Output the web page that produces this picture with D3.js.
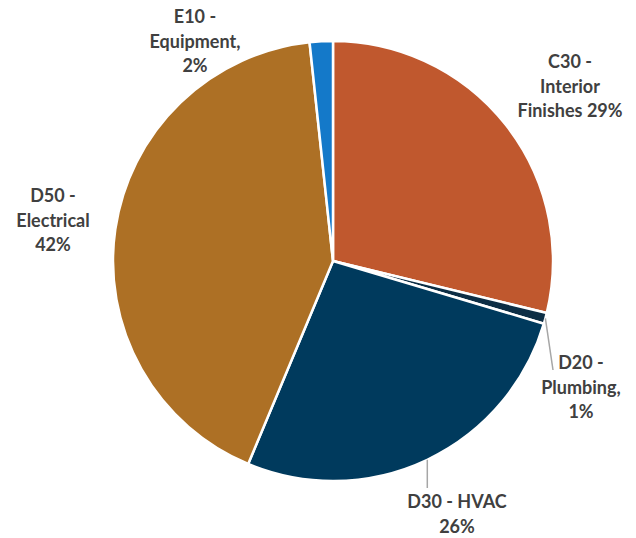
<!DOCTYPE html>
<html><head><meta charset="utf-8">
<script src="https://cdn.jsdelivr.net/npm/d3@7"></script>
<style>body{margin:0;background:#fff}svg{display:block}</style>
</head><body>
<script>
const categories = ["C30 - Interior Finishes", "D20 - Plumbing", "D30 - HVAC", "D50 - Electrical", "E10 - Equipment"];
const values = [28.8, 0.8, 26.7, 42.0, 1.7];
const colors = ["#C0582E", "#0D2E45", "#003A5D", "#AD7025", "#1479C9"];
const labelLines = [
  ["C30 -", "Interior", "Finishes 29%"],
  ["D20 -", "Plumbing,", "1%"],
  ["D30 - HVAC", "26%"],
  ["D50 -", "Electrical", "42%"],
  ["E10 -", "Equipment,", "2%"]
];
// layout (label anchor centers, leader flags)
const labelAt = [[570, 62], [581, 363], [457, 502], [53, 196], [195, 17]];
const leader = [false, true, true, false, false];

const W = 636, H = 538, cx = 333, cy = 261, R = 220;
const svg = d3.select("body").append("svg").attr("width", W).attr("height", H);
const g = svg.append("g").attr("transform", `translate(${cx},${cy})`);
const data = categories.map((c, i) => ({c, v: values[i], i}));
const pie = d3.pie().value(d => d.v).sort(null).startAngle(0).endAngle(2 * Math.PI);
const arc = d3.arc().innerRadius(0).outerRadius(R);
const arcs = pie(data);
g.selectAll("path").data(arcs).join("path")
  .attr("d", arc).attr("fill", d => colors[d.data.i])
  .attr("stroke", "#fff").attr("stroke-width", 2.5).attr("stroke-linejoin", "round");

arcs.forEach((a, i) => {
  if (!leader[i]) return;
  const m = (a.startAngle + a.endAngle) / 2;
  const x0 = R * Math.sin(m), y0 = -R * Math.cos(m);
  const [lx, ly] = labelAt[i];
  let x1 = lx - cx, y1 = ly - cy - 12;
  if (i === 1) { x1 = 553 - cx; y1 = 370 - cy; }
  if (i === 2) { x1 = x0; y1 = 488 - cy; }
  g.append("line").attr("x1", x0).attr("y1", y0).attr("x2", x1).attr("y2", y1)
    .attr("stroke", "#A6A6A6").attr("stroke-width", 1.5);
});

labelLines.forEach((lines, i) => {
  const [lx, ly] = labelAt[i];
  const t = svg.append("text").attr("text-anchor", "middle")
    .attr("font-family", "Lato, 'Open Sans', sans-serif").attr("font-weight", "bold")
    .attr("font-size", 18).attr("fill", "#404040");
  lines.forEach((s, k) => {
    t.append("tspan").attr("x", lx).attr("y", ly + k * 24.5).attr("dy", "0.35em").text(s);
  });
});
</script>
</body></html>
